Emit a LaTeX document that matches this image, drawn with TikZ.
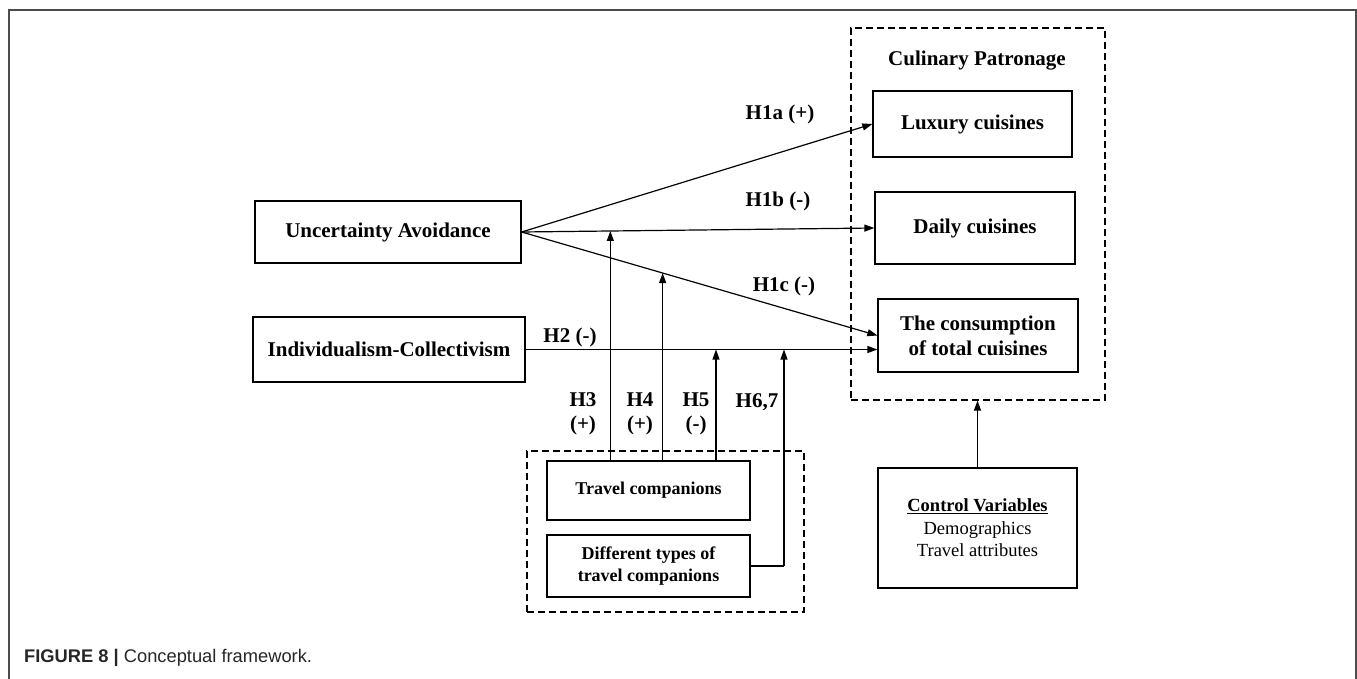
\documentclass[tikz,border=0pt]{standalone}
\usepackage{fontspec}
\setmainfont{Liberation Serif}
\newfontfamily\capfont{Liberation Sans}
\usetikzlibrary{arrows.meta,calc}
\begin{document}
\begin{tikzpicture}[x=1pt,y=-1pt,
  box/.style={draw,line width=1.3pt,inner sep=0pt,align=center,font=\fontsize{21}{25}\selectfont\bfseries},
  smallbox/.style={box,font=\fontsize{18}{22}\selectfont\bfseries},
  dbox/.style={draw,line width=1.2pt,dash pattern=on 7pt off 4pt},
  lbl/.style={inner sep=0pt,align=center,font=\fontsize{21}{24}\selectfont\bfseries},
  arr/.style={line width=1.2pt,-{Triangle[length=10pt,width=7pt]}},
  ln/.style={line width=1.2pt}]
\useasboundingbox (0,0) rectangle (1357,679);
\fill[white] (0,0) rectangle (1357,679);
% outer frame
\draw[line width=2pt,black!70] (8.5,679) -- (8.5,10) -- (1355.5,10) -- (1355.5,679);
% dashed groups
\node[dbox,minimum width=254pt,minimum height=372pt,inner sep=0pt] (cul) at (978,214) {};
\node[dbox,minimum width=277pt,minimum height=161pt,inner sep=0pt] (trav) at (665.5,531.5) {};
\node[lbl] (culT) at (977,61) {Culinary Patronage};
% boxes
\node[box,minimum width=266pt,minimum height=62pt] (UA) at (388,232) {Uncertainty Avoidance};
\node[box,minimum width=272pt,minimum height=65pt] (IC) at (389,349.5) {Individualism-Collectivism};
\node[box,minimum width=199pt,minimum height=66pt] (Lux) at (972.5,124) {Luxury cuisines};
\node[box,minimum width=200pt,minimum height=72pt] (Day) at (975,228) {Daily cuisines};
\node[box,minimum width=200pt,minimum height=73pt] (Tot) at (978,335.5) {The consumption\\of total cuisines};
\node[smallbox,minimum width=203pt,minimum height=59pt] (TC) at (648.5,490.5) {Travel companions};
\node[smallbox,minimum width=203pt,minimum height=62pt] (DT) at (648.5,566) {Different types of\\travel companions};
\node[box,minimum width=199pt,minimum height=120pt,font=\fontsize{18.5}{22.5}\selectfont] (CV) at (977.5,528) {\underline{\textbf{Control Variables}}\\Demographics\\Travel attributes};
% main arrows
\draw[arr] (UA.east) -- (Lux.west);
\draw[arr] (UA.east) -- (Day.west);
\draw[arr] (UA.east) -- (Tot.west);
\draw[arr] (IC.east) -- (IC.east -| Tot.west);
\draw[arr] (CV.north) -- (CV.north |- cul.south);
% moderator arrows
\coordinate (m3) at ($(UA.east)!{(610-521)/(875-521)}!(Day.west)$);
\coordinate (m4) at ($(UA.east)!{(662.5-521)/(878-521)}!(Tot.west)$);
\coordinate (m5) at (716,349.5);
\coordinate (m6) at (784,349.5);
\coordinate (c6) at (784,566);
\draw[arr] (TC.north -| m3) -- (m3);
\draw[arr] (TC.north -| m4) -- (m4);
\draw[arr] (TC.north -| m5) -- (m5);
\draw[ln] (DT.east) -- (c6);
\draw[arr] (c6) -- (m6);
% labels
\node[lbl] (h1a) at (780,114) {H1a (+)};
\node[lbl] (h1b) at (778,201) {H1b (-)};
\node[lbl] (h1c) at (784,286) {H1c (-)};
\node[lbl] (h2) at (570,337) {H2 (-)};
\node[lbl] (h3) at (583,414) {H3\\(+)};
\node[lbl] (h4) at (640,414) {H4\\(+)};
\node[lbl] (h5) at (696,414) {H5\\(-)};
\node[lbl] (h6) at (757,402) {H6,7};
% caption
\node[anchor=west,inner sep=0pt,text=black!85,font=\capfont\fontsize{18.3}{21}\selectfont] (cap) at (24,658) {\textbf{FIGURE 8 |} Conceptual framework.};
\end{tikzpicture}
\end{document}
